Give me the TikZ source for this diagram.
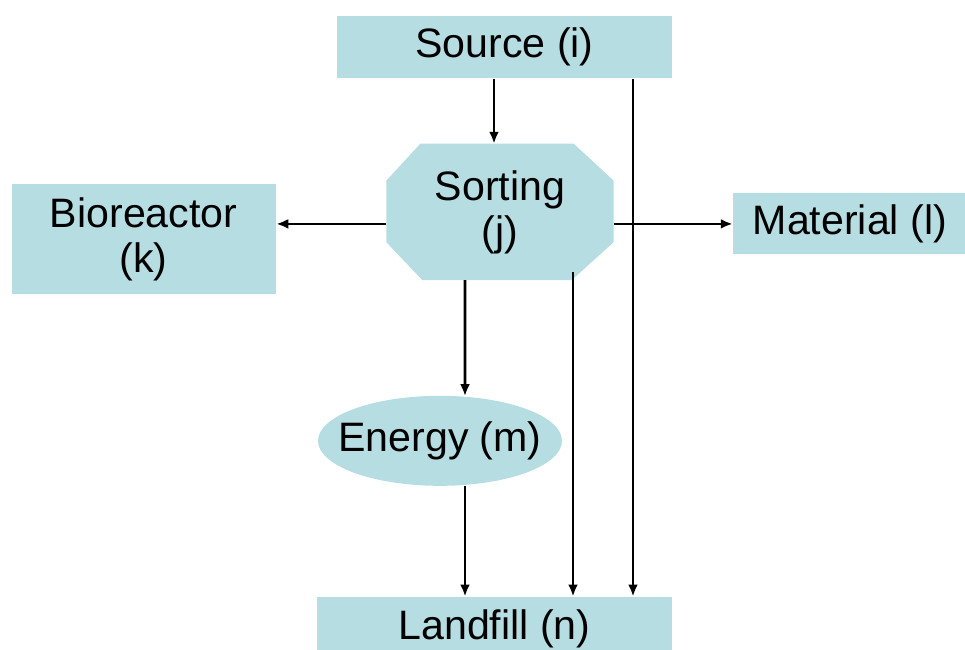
\documentclass[tikz,border=0pt]{standalone}
\usepackage{fontspec}
\setmainfont{Liberation Sans}
\usetikzlibrary{positioning,arrows.meta,backgrounds}
\definecolor{boxblue}{RGB}{182,221,226}

\begin{document}
\begin{tikzpicture}[
        box/.style={fill=boxblue,align=center,inner sep=0pt,
                    font=\fontsize{11.7}{12.8}\selectfont},
        arr/.style={-{Latex[length=3.4pt,width=2.8pt]},line width=0.75pt}]
        \useasboundingbox (0,0) rectangle (9.65,-6.49);
        \node[box,minimum width=3.35cm,minimum height=0.62cm] (src) at (5.045,-0.47) {Source (i)};
        \node[box,fill=none,minimum width=2.26cm,minimum height=1.35cm,below=0.65cm of src,xshift=-0.045cm] (sort) {Sorting\\(j)};
        \node[box,minimum width=2.64cm,minimum height=1.1cm,left=1.1cm of sort,yshift=-0.275cm] (bio) {Bioreactor\\(k)};
        \node[box,minimum width=2.33cm,minimum height=0.61cm,right=1.19cm of sort,yshift=-0.12cm] (mat) {Material (l)};
        \node[box,fill=none,minimum width=2.44cm,minimum height=0.9cm,below=1.15cm of sort,xshift=-0.6cm] (nrg) {Energy (m)};
        \node[box,minimum width=3.55cm,minimum height=0.64cm,below=1.1cm of nrg,xshift=0.545cm] (lfl) {Landfill (n)};
        % octagon and ellipse behind their texts
        \begin{scope}[on background layer]
            \fill[boxblue] ([xshift=0.34cm]sort.north west) -- ([xshift=-0.4cm]sort.north east)
                -- ([yshift=-0.37cm]sort.north east) -- ([yshift=0.38cm]sort.south east)
                -- ([xshift=-0.42cm]sort.south east) -- ([xshift=0.36cm]sort.south west)
                -- ([yshift=0.38cm]sort.south west) -- ([yshift=-0.37cm]sort.north west) -- cycle;
            \fill[boxblue] (nrg.center) ellipse [x radius=1.22cm,y radius=0.45cm];
        \end{scope}
        \draw[arr] ([xshift=-0.105cm]src.south) -- ([xshift=-0.105cm]src.south |- sort.north);
        \draw[arr] ([xshift=1.285cm]src.south) -- ([xshift=1.285cm]src.south |- lfl.north);
        \draw[arr] (sort.west |- mat.west) -- (bio.east |- mat.west);
        \draw[arr] (sort.east |- mat.west) -- (mat.west);
        \draw[arr] ([xshift=-0.35cm]sort.south) -- ([xshift=0.25cm,yshift=-0.01cm]nrg.north);
        \draw[arr] ([xshift=0.73cm,yshift=0.08cm]sort.south) -- ([xshift=0.73cm]sort.south |- lfl.north);
        \draw[arr] ([xshift=0.25cm,yshift=0.01cm]nrg.south) -- ([xshift=0.25cm]nrg.south |- lfl.north);
    \end{tikzpicture}
\end{document}
